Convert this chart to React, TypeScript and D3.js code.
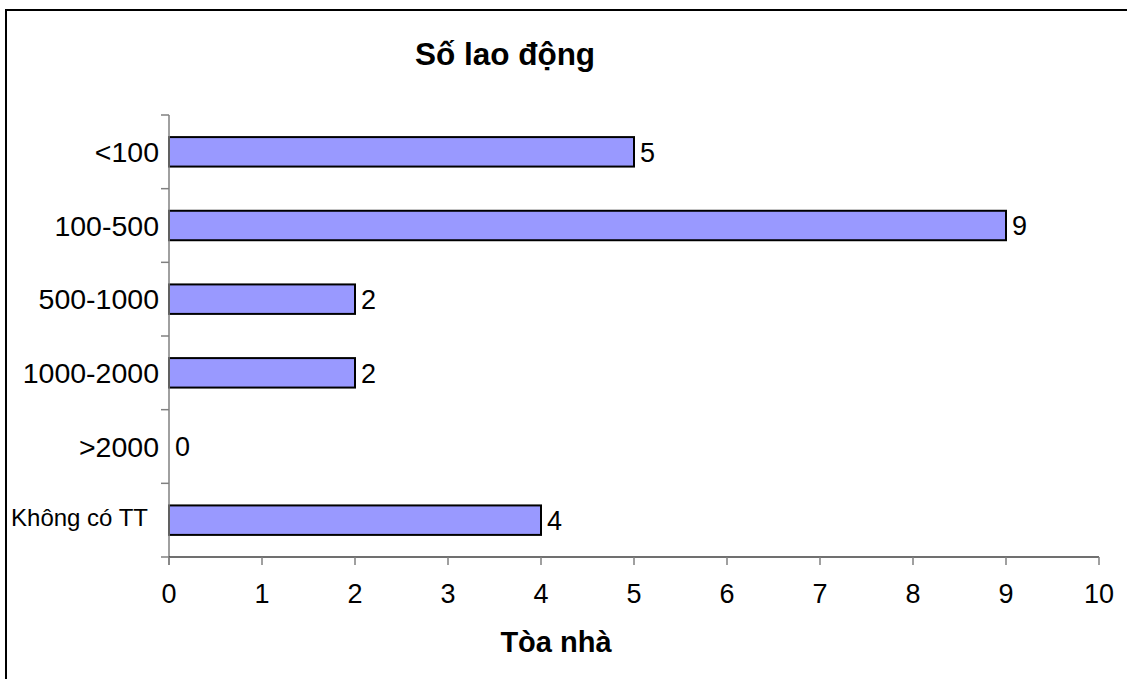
import React from "react";
import * as d3 from "d3";

const categories: string[] = ["<100", "100-500", "500-1000", "1000-2000", ">2000", "Không có TT"];
const values: number[] = [5, 9, 2, 2, 0, 4];
const xTicks: number[] = [0, 1, 2, 3, 4, 5, 6, 7, 8, 9, 10];
const chartTitle = "Số lao động";
const xAxisTitle = "Tòa nhà";

const W = 1127;
const H = 679;
const plot = { left: 169, right: 1099, top: 115, bottom: 557 };
const FONT = "'Liberation Sans', Arial, sans-serif";

export default function App() {
  const x = d3.scaleLinear().domain([0, 10]).range([plot.left, plot.right]);
  const y = d3
    .scaleBand<string>()
    .domain(categories)
    .range([plot.top, plot.bottom])
    .paddingInner(0.6)
    .paddingOuter(0.3);
  const step = y.step();
  const boundaries = d3.range(categories.length + 1).map((i) => plot.top + i * step);

  return (
    <svg
      width={W}
      height={H}
      style={{ position: "absolute", left: 0, top: 0, background: "#fff" }}
      fontFamily={FONT}
    >
      <rect x={0} y={0} width={W} height={H} fill="#fff" />
      <rect x={6} y={10} width={W + 20} height={H + 20} fill="none" stroke="#000" strokeWidth={2} />

      <text x={505} y={65} textAnchor="middle" fontSize={31.5} fontWeight="bold" fill="#000">
        {chartTitle}
      </text>

      {/* bars */}
      {categories.map((c, i) => {
        const v = values[i];
        const y0 = y(c)!;
        const bh = y.bandwidth();
        const small = c === "Không có TT";
        return (
          <g key={c}>
            {v > 0 && (
              <rect
                x={x(0)}
                y={y0}
                width={x(v) - x(0)}
                height={bh}
                fill="#9999FF"
                stroke="#000"
                strokeWidth={2}
              />
            )}
            <text
              x={x(v) + 6}
              y={y0 + bh / 2}
              dy="0.36em"
              fontSize={27}
              fill="#000"
            >
              {v}
            </text>
            <text
              x={small ? 148 : 159}
              y={y0 + bh / 2 + (small ? -3 : 0)}
              dy="0.36em"
              textAnchor="end"
              fontSize={small ? 24 : 28.5}
              fill="#000"
            >
              {c}
            </text>
          </g>
        );
      })}

      {/* y axis */}
      <line x1={plot.left} x2={plot.left} y1={plot.top} y2={plot.bottom + 8} stroke="#808080" strokeWidth={1.5} />
      {boundaries.map((b, i) => (
        <line key={i} x1={plot.left - 8} x2={plot.left} y1={b} y2={b} stroke="#808080" strokeWidth={1.5} />
      ))}

      {/* x axis */}
      <line x1={plot.left} x2={plot.right} y1={plot.bottom} y2={plot.bottom} stroke="#404040" strokeWidth={1.5} />
      {xTicks.map((t) => (
        <g key={t}>
          <line x1={x(t)} x2={x(t)} y1={plot.bottom} y2={plot.bottom + 8} stroke="#808080" strokeWidth={1.5} />
          <text x={x(t)} y={603} textAnchor="middle" fontSize={27} fill="#000">
            {t}
          </text>
        </g>
      ))}

      <text x={556} y={652} textAnchor="middle" fontSize={29} fontWeight="bold" fill="#000">
        {xAxisTitle}
      </text>
    </svg>
  );
}
